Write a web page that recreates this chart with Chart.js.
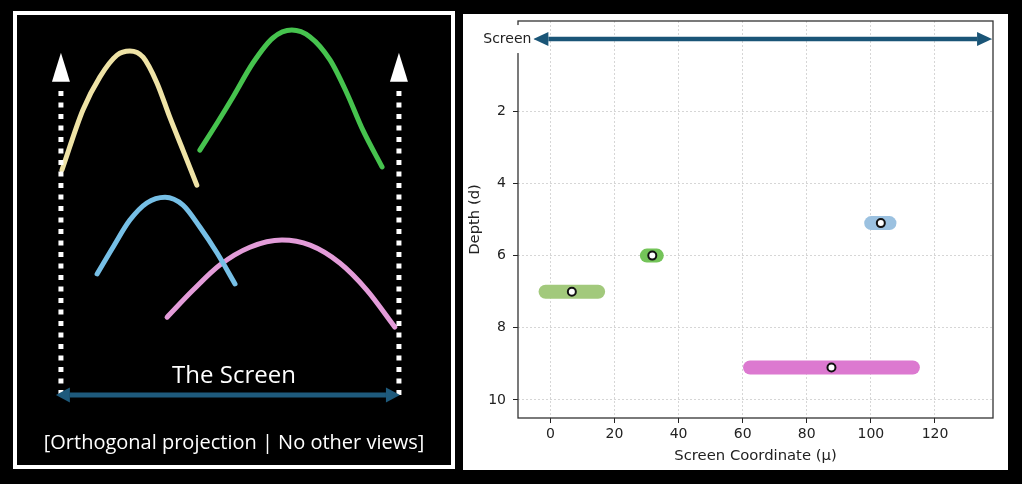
<!DOCTYPE html>
<html>
<head>
<meta charset="utf-8">
<script src="https://cdn.jsdelivr.net/npm/chart.js@4.4.0/dist/chart.umd.min.js"></script>
<style>
  html, body { margin: 0; padding: 0; background: #000; }
  body { width: 1022px; height: 484px; position: relative; overflow: hidden; }
  #left { position: absolute; left: 13px; top: 11px; width: 434px; height: 450px; border: 4px solid #fff; background: #000; }
  #left canvas { position: absolute; left: 0; top: 0; }
  .cap { position: absolute; left: 0; width: 434px; text-align: center; color: #fff; font-family: 'Open Sans', Lato, sans-serif; white-space: nowrap; }
  #screenText { top: 345px; font-size: 24px; line-height: 27px; }
  #noteText { top: 415px; font-size: 20px; line-height: 23px; }
  #right { position: absolute; left: 463px; top: 14px; width: 545px; height: 456px; background: #fff; }
</style>
</head>
<body>
<div id="left">
  <canvas id="leftChart" width="434" height="450"></canvas>
  <div class="cap" id="screenText">The Screen</div>
  <div class="cap" id="noteText">[Orthogonal projection | No other views]</div>
</div>
<div id="right">
  <canvas id="rightChart" width="545" height="456"></canvas>
</div>
<script>
// Left diagram: curves seen from the front (x = screen units, 0..100 between the edges; y = height)
const yellowX = [0.3, 6.5, 11.5, 16.6, 20.4, 24.3, 28.4, 32.2, 36.1, 40.2];
const yellowY = [65.6, 83.1, 92.7, 99.1, 100.3, 98.5, 91.0, 81.0, 71.4, 61.2];
const greenX = [41.1, 46.2, 50.9, 56.8, 62.7, 68.3, 73.7, 79.6, 84.6, 89.3, 95.0];
const greenY = [71.4, 79.3, 86.9, 96.8, 104.1, 106.4, 104.4, 97.7, 88.0, 77.3, 66.5];
const blueX = [10.7, 15.4, 20.4, 25.4, 30.8, 36.1, 41.1, 46.2, 51.5];
const blueY = [35.3, 43.1, 51.0, 56.0, 57.7, 55.4, 49.0, 41.4, 32.4];
const pinkX = [31.4, 39.1, 47.0, 55.9, 65.4, 73.7, 82.5, 90.5, 98.8];
const pinkY = [22.7, 30.6, 37.9, 43.1, 45.2, 43.7, 38.5, 30.6, 19.8];
const screenEdges = [0, 100];
const edgeTop = 99.8;
const screenSpan = [-1.5, 100.3];

// Right chart: each object's depth, centre and projected extent on the screen
const objDepth = [7.0, 6.0, 5.1, 9.1];
const objMu = [6.7, 31.8, 103.1, 87.7];
const objLo = [-1.5, 30.1, 100.1, 62.3];
const objHi = [14.9, 33.2, 105.8, 113.1];
const objColors = ['#a2c97c', '#74c459', '#9bc1e0', '#dc79d0'];
const xTicks = [0, 20, 40, 60, 80, 100, 120];
const yTicks = [0, 2, 4, 6, 8, 10];
const screenArrow = [-5.3, 137.8];

function zip(xs, ys) {
    return xs.map((x, i) => ({ x: x, y: ys[i] }));
}

// arrow heads at the ends of line datasets that have an `arrow` option
function headsOf(chart, i) {
    const a = chart.data.datasets[i].arrow;
    const p = chart.getDatasetMeta(i).data;
    const n = p.length;
    const out = [];
    if (a.start) out.push([p[0], p[1]]);
    if (a.end) out.push([p[n - 1], p[n - 2]]);
    return out.map(([t, f]) => ({ x: t.x, y: t.y, ang: Math.atan2(t.y - f.y, t.x - f.x) }));
}

const arrowPlugin = {
    id: 'arrowHeads',
    beforeDatasetDraw(chart, args) {
        const a = chart.data.datasets[args.index].arrow;
        if (!a) return;
        const ctx = chart.ctx;
        ctx.save();
        ctx.beginPath();
        ctx.rect(0, 0, chart.width, chart.height);
        headsOf(chart, args.index).forEach(h => {
            const c = Math.cos(h.ang), s = Math.sin(h.ang);
            const u0 = -(a.len + (a.gap || 0)), u1 = 6, v = a.wid;
            const pt = (u, w) => [h.x + u * c - w * s, h.y + u * s + w * c];
            ctx.moveTo(...pt(u0, -v));
            ctx.lineTo(...pt(u1, -v));
            ctx.lineTo(...pt(u1, v));
            ctx.lineTo(...pt(u0, v));
            ctx.closePath();
        });
        ctx.clip('evenodd');
    },
    afterDatasetDraw(chart, args) {
        const a = chart.data.datasets[args.index].arrow;
        if (!a) return;
        const ctx = chart.ctx;
        ctx.restore();
        headsOf(chart, args.index).forEach(h => {
            ctx.save();
            ctx.translate(h.x, h.y);
            ctx.rotate(h.ang);
            ctx.beginPath();
            ctx.moveTo(0, 0);
            ctx.lineTo(-a.len, -a.wid / 2);
            ctx.lineTo(-a.len, a.wid / 2);
            ctx.closePath();
            ctx.fillStyle = a.color;
            ctx.fill();
            ctx.restore();
        });
    }
};

function curve(xs, ys, color) {
    return {
        data: zip(xs, ys),
        borderColor: color,
        borderWidth: 5,
        borderCapStyle: 'round',
        cubicInterpolationMode: 'monotone',
        pointRadius: 0,
        order: 2
    };
}

function edgeArrow(x) {
    return {
        data: [{ x: x, y: 0 }, { x: x, y: edgeTop }],
        borderColor: '#fff',
        borderWidth: 5,
        borderDash: [5, 6.5],
        pointRadius: 0,
        order: 1,
        arrow: { end: true, len: 29, wid: 18, gap: 6, color: '#fff' }
    };
}

new Chart(document.getElementById('leftChart'), {
    type: 'line',
    data: {
        datasets: [
            curve(yellowX, yellowY, '#efe3a6'),
            curve(greenX, greenY, '#46c34e'),
            curve(blueX, blueY, '#76bfe6'),
            curve(pinkX, pinkY, '#e39cd9'),
            edgeArrow(screenEdges[0]),
            edgeArrow(screenEdges[1]),
            {
                data: [{ x: screenSpan[0], y: 0 }, { x: screenSpan[1], y: 0 }],
                borderColor: '#1e5a7c',
                borderWidth: 5,
                pointRadius: 0,
                order: 0,
                arrow: { start: true, end: true, len: 14, wid: 15, color: '#1e5a7c' }
            }
        ]
    },
    options: {
        responsive: false,
        animation: false,
        events: [],
        layout: { padding: 0 },
        plugins: { legend: { display: false }, tooltip: { enabled: false } },
        scales: {
            x: { type: 'linear', display: false, min: -13.0, max: 115.4 },
            y: { type: 'linear', display: false, min: -20.4, max: 110.8 }
        }
    },
    plugins: [arrowPlugin]
});

// Right chart
const tickFont = { family: 'DejaVu Sans', size: 14 };
const labelFont = { family: 'DejaVu Sans', size: 14.8 };
const gridStyle = { color: '#cccccc', lineWidth: 0.8, tickLength: 5, tickColor: '#222', tickWidth: 1 };

const rightSets = objDepth.map((d, i) => ({
    data: [{ x: objLo[i], y: d }, { x: objHi[i], y: d }],
    borderColor: objColors[i],
    borderWidth: 14,
    borderCapStyle: 'round',
    pointRadius: 0,
    order: 2
}));
rightSets.push({
    data: zip(objMu, objDepth),
    showLine: false,
    pointRadius: 4,
    pointBorderWidth: 2,
    pointBackgroundColor: '#fff',
    pointBorderColor: '#111',
    order: 0
});
rightSets.push({
    data: [{ x: screenArrow[0], y: 0 }, { x: screenArrow[1], y: 0 }],
    borderColor: '#1a5577',
    borderWidth: 4.5,
    pointRadius: 0,
    clip: false,
    order: 1,
    arrow: { start: true, end: true, len: 15, wid: 14, color: '#1a5577' }
});

const framePlugin = {
    id: 'frame',
    afterDraw(chart) {
        const { ctx, chartArea: a } = chart;
        ctx.save();
        ctx.strokeStyle = '#333';
        ctx.lineWidth = 1.3;
        ctx.strokeRect(a.left, a.top, a.right - a.left, a.bottom - a.top);
        // "Screen" label with a white box, at depth 0
        const px = chart.scales.x.getPixelForValue(screenArrow[0]);
        const py = chart.scales.y.getPixelForValue(0);
        ctx.font = '14px "DejaVu Sans"';
        const w = ctx.measureText('Screen').width;
        ctx.fillStyle = '#fff';
        ctx.fillRect(px - w - 6, py - 14, w + 6, 28);
        ctx.fillStyle = '#222';
        ctx.textAlign = 'right';
        ctx.textBaseline = 'middle';
        ctx.fillText('Screen', px - 2, py);
        ctx.restore();
    }
};

new Chart(document.getElementById('rightChart'), {
    type: 'line',
    data: { datasets: rightSets },
    options: {
        responsive: false,
        animation: false,
        events: [],
        layout: { padding: { left: 0, right: 15, top: 7, bottom: 0 } },
        plugins: { legend: { display: false }, tooltip: { enabled: false } },
        scales: {
            x: {
                type: 'linear',
                min: -10.1,
                max: 138.1,
                afterBuildTicks: s => { s.ticks = xTicks.map(v => ({ value: v })); },
                afterFit: s => { s.height = 52; s.paddingLeft = 0; s.paddingRight = 0; },
                ticks: { font: tickFont, color: '#222', padding: 3 },
                grid: gridStyle,
                border: { display: false, dash: [2, 2] },
                title: { display: true, text: 'Screen Coordinate (μ)', font: labelFont, color: '#222', padding: { top: 0, bottom: 5 } }
            },
            y: {
                type: 'linear',
                reverse: true,
                min: -0.5,
                max: 10.5,
                afterBuildTicks: s => { s.ticks = yTicks.map(v => ({ value: v })); },
                afterFit: s => { s.width = 55; s.paddingTop = 0; s.paddingBottom = 0; },
                ticks: { font: tickFont, color: '#222', padding: 7, callback: v => (v === 0 ? '' : String(v)) },
                grid: gridStyle,
                border: { display: false, dash: [2, 2] },
                title: { display: true, text: 'Depth (d)', font: labelFont, color: '#222', padding: { top: 3, bottom: 0 } }
            }
        }
    },
    plugins: [arrowPlugin, framePlugin]
});
</script>
</body>
</html>
